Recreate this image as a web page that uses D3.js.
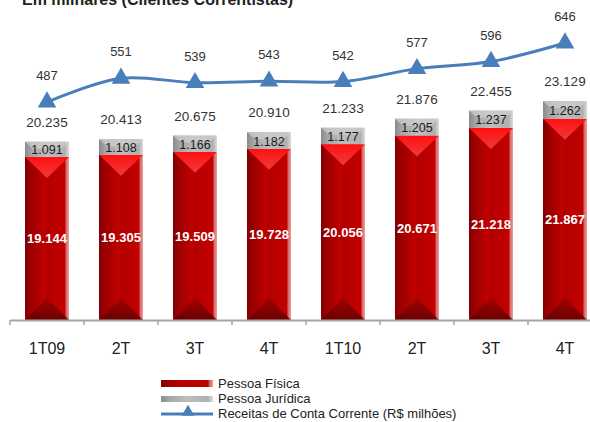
<!DOCTYPE html>
<meta charset="utf-8">
<head>
    <script src="https://d3js.org/d3.v7.min.js"></script>
    <style>
      body { margin: 0; background: #fff; }
      text { font-family: "Liberation Sans", Arial, sans-serif; }
    </style>
</head>
<html lang="pt">
    <body>
        <div id="chart"></div>
    </body>
</html>
<script>
    // dados (em milhares de clientes e R$ milhões)
    const quarters = ["1T09", "2T", "3T", "4T", "1T10", "2T", "3T", "4T"]
    const pessoaFisica = [19144, 19305, 19509, 19728, 20056, 20671, 21218, 21867]
    const pessoaJuridica = [1091, 1108, 1166, 1182, 1177, 1205, 1237, 1262]
    const totals = [20235, 20413, 20675, 20910, 21233, 21876, 22455, 23129]
    const receitas = [487, 551, 539, 543, 542, 577, 596, 646]

    const width = 590, height = 422
    const fmt = d3.format(",")
    const br = v => fmt(v).replace(/,/g, ".")

    const svg = d3.select("#chart").append("svg")
      .attr("width", width)
      .attr("height", height)

    const defs = svg.append("defs")

    // gradients for the 3D-ish bars
    const redGrad = defs.append("linearGradient").attr("id", "redBar")
    redGrad.selectAll("stop")
      .data([[0, "#7e0000"], [0.12, "#9a0000"], [0.45, "#c00000"], [0.5, "#b40000"], [0.9, "#c20000"], [0.94, "#d86a6a"], [1, "#e8a0a0"]])
      .join("stop").attr("offset", d => d[0]).attr("stop-color", d => d[1])

    const grayGrad = defs.append("linearGradient").attr("id", "grayBar")
    grayGrad.selectAll("stop")
      .data([[0, "#8a8a8a"], [0.15, "#a6a6a6"], [0.5, "#bdbdbd"], [0.9, "#b0b0b0"], [1, "#dcdcdc"]])
      .join("stop").attr("offset", d => d[0]).attr("stop-color", d => d[1])

    const topGrad = defs.append("linearGradient").attr("id", "redTop")
      .attr("x1", 0).attr("y1", 0).attr("x2", 0).attr("y2", 1)
    topGrad.selectAll("stop")
      .data([[0, "#ff1010"], [1, "#f03a3a"]])
      .join("stop").attr("offset", d => d[0]).attr("stop-color", d => d[1])

    const botGrad = defs.append("linearGradient").attr("id", "redBot")
      .attr("x1", 0).attr("y1", 0).attr("x2", 0).attr("y2", 1)
    botGrad.selectAll("stop")
      .data([[0, "#a00000"], [1, "#5e0000"]])
      .join("stop").attr("offset", d => d[0]).attr("stop-color", d => d[1])

    // scales
    const x = d3.scaleBand()
      .domain(d3.range(quarters.length))
      .range([10, 602])
      .paddingInner(0.405)
      .paddingOuter(0.2025)

    const y = d3.scaleLinear().domain([7500, 30000]).range([320, 5])
    const yLine = d3.scaleLinear().domain([0, 700]).range([282.7, 23])

    // title (cut off at the top, as in the source)
    svg.append("text")
      .attr("x", 22).attr("y", 5)
      .style("font-size", "16px").style("font-weight", "bold").style("fill", "#222")
      .text("Em milhares (Clientes Correntistas)")

    const bw = x.bandwidth()

    // Pessoa Física bars
    const bars = svg.append("g")
    const pf = bars.selectAll("g.pf").data(pessoaFisica).join("g").attr("class", "pf")
    pf.append("rect")
      .attr("x", (d, i) => x(i))
      .attr("y", d => y(d))
      .attr("width", bw)
      .attr("height", d => y(7500) - y(d))
      .attr("fill", "url(#redBar)")
    pf.append("path")
      .attr("d", (d, i) => {
        const x0 = x(i), x1 = x(i) + bw, t = y(d)
        return `M${x0},${t}L${x1},${t}L${(x0 + x1) / 2},${t + 21}Z`
      })
      .attr("fill", "url(#redTop)")
    pf.append("path")
      .attr("d", (d, i) => {
        const x0 = x(i), x1 = x(i) + bw, b = y(7500)
        return `M${x0},${b}L${x1},${b}L${(x0 + x1) / 2},${b - 22}Z`
      })
      .attr("fill", "url(#redBot)")
      .style("opacity", 0.85)

    // Pessoa Jurídica bars on top
    const pj = bars.selectAll("g.pj").data(pessoaJuridica).join("g").attr("class", "pj")
    pj.append("rect")
      .attr("x", (d, i) => x(i))
      .attr("y", (d, i) => y(totals[i]))
      .attr("width", bw)
      .attr("height", (d, i) => y(pessoaFisica[i]) - y(totals[i]))
      .attr("fill", "url(#grayBar)")
    pj.append("path")
      .attr("d", (d, i) => {
        const x0 = x(i), x1 = x(i) + bw, t = y(totals[i])
        return `M${x0},${t}L${x1},${t}L${x1 - 8},${t + 7}L${x0 + 8},${t + 7}Z`
      })
      .attr("fill", "#cfcfcf")
      .style("opacity", 0.7)

    // value labels
    svg.append("g").selectAll("text").data(pessoaFisica).join("text")
      .attr("x", (d, i) => x(i) + bw / 2)
      .attr("y", d => (y(d) + y(7500)) / 2 + 5)
      .attr("text-anchor", "middle")
      .style("font-size", "13px").style("font-weight", "bold").style("fill", "#fff")
      .text(br)

    svg.append("g").selectAll("text").data(pessoaJuridica).join("text")
      .attr("x", (d, i) => x(i) + bw / 2)
      .attr("y", (d, i) => (y(totals[i]) + y(pessoaFisica[i])) / 2 + 5)
      .attr("text-anchor", "middle")
      .style("font-size", "12.5px").style("fill", "#1a1a1a")
      .text(br)

    svg.append("g").selectAll("text").data(totals).join("text")
      .attr("x", (d, i) => x(i) + bw / 2)
      .attr("y", d => y(d) - 15)
      .attr("text-anchor", "middle")
      .style("font-size", "13.5px").style("fill", "#333")
      .text(br)

    // x axis
    const axis = svg.append("g")
      .attr("transform", "translate(0,320)")
      .call(d3.axisBottom(x).tickSize(0).tickPadding(23).tickFormat(i => quarters[i]))
    axis.select(".domain").attr("stroke", "#a6a6a6").attr("stroke-width", 2)
    axis.selectAll("text").style("font-size", "16px").style("fill", "#222")
      .style("font-family", "'Liberation Sans', Arial, sans-serif")
    axis.selectAll("line.sep").data(d3.range(quarters.length + 1)).join("line")
      .attr("class", "sep")
      .attr("x1", i => x.range()[0] + i * x.step())
      .attr("x2", i => x.range()[0] + i * x.step())
      .attr("y1", 0).attr("y2", 5)
      .attr("stroke", "#a6a6a6").attr("stroke-width", 1.5)

    // receitas line
    const lineColor = "#4a7ebb"
    const line = d3.line()
      .x((d, i) => x(i) + bw / 2)
      .y(d => yLine(d))
      .curve(d3.curveCatmullRom)
    svg.append("path")
      .datum(receitas)
      .attr("d", line)
      .attr("fill", "none")
      .attr("stroke", lineColor)
      .attr("stroke-width", 3)

    const tri = d3.symbol().type(d3.symbolTriangle).size(150)
    svg.append("g").selectAll("path").data(receitas).join("path")
      .attr("d", tri)
      .attr("transform", (d, i) => `translate(${x(i) + bw / 2},${yLine(d)})`)
      .attr("fill", lineColor)

    svg.append("g").selectAll("text").data(receitas).join("text")
      .attr("x", (d, i) => x(i) + bw / 2)
      .attr("y", d => yLine(d) - 22)
      .attr("text-anchor", "middle")
      .style("font-size", "13px").style("fill", "#333")
      .text(d => d)

    // legend
    const legend = svg.append("g").attr("transform", "translate(161,0)")
    legend.append("rect").attr("x", 0).attr("y", 380).attr("width", 52).attr("height", 7)
      .attr("fill", "url(#redBar)")
    legend.append("rect").attr("x", 0).attr("y", 396).attr("width", 52).attr("height", 6)
      .attr("fill", "url(#grayBar)")
    legend.append("line").attr("x1", 0).attr("x2", 52).attr("y1", 414).attr("y2", 414)
      .attr("stroke", lineColor).attr("stroke-width", 3)
    legend.append("path").attr("d", d3.symbol().type(d3.symbolTriangle).size(70))
      .attr("transform", "translate(27,412)").attr("fill", lineColor)

    legend.selectAll("text.lbl")
      .data(["Pessoa Física", "Pessoa Jurídica", "Receitas de Conta Corrente (R$ milhões)"])
      .join("text")
      .attr("class", "lbl")
      .attr("x", 57)
      .attr("y", (d, i) => 388 + i * 15)
      .style("font-size", "13px").style("fill", "#222")
      .text(d => d)
</script>
